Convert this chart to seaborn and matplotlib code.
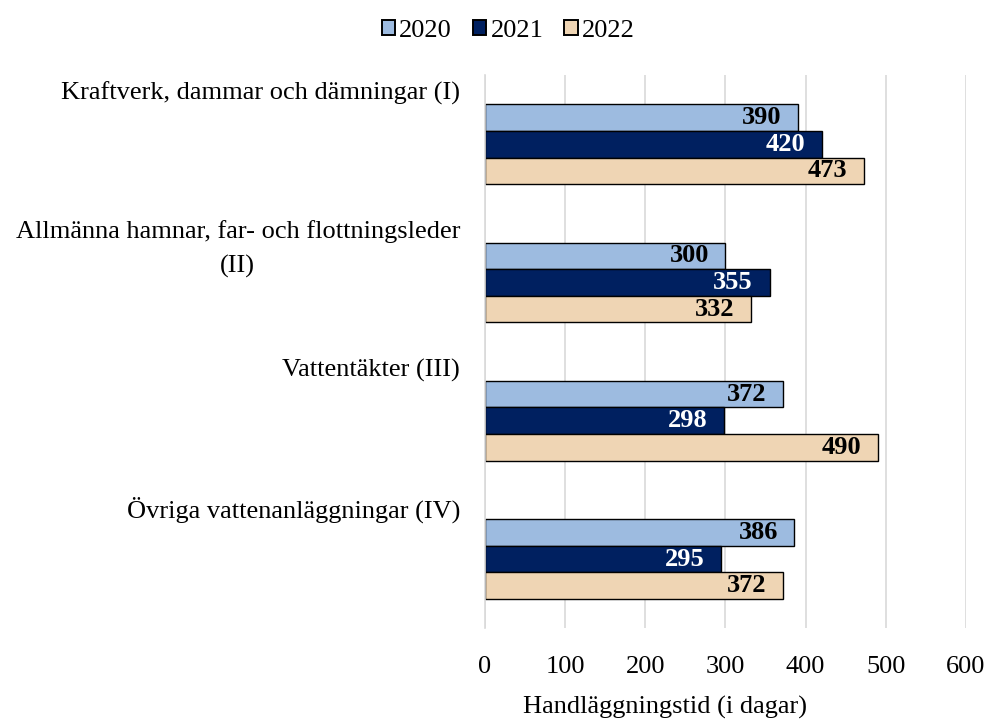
import pandas as pd
import matplotlib.pyplot as plt
import seaborn as sns
from matplotlib.patches import Patch
import matplotlib.transforms as mtransforms

# data
categories = ["Kraftverk, dammar och dämningar (I)",
              "Allmänna hamnar, far- och flottningsleder\n(II)",
              "Vattentäkter (III)",
              "Övriga vattenanläggningar (IV)"]
years = ["2020", "2021", "2022"]
v2020 = [390, 300, 372, 386]
v2021 = [420, 355, 298, 295]
v2022 = [473, 332, 490, 372]
colors = ["#9dbbe0", "#002060", "#efd5b4"]
label_colors = ["black", "white", "black"]

df = pd.DataFrame({
    "kategori": categories * 3,
    "år": [y for y in years for _ in categories],
    "dagar": v2020 + v2021 + v2022,
})

sns.set_style("white")
plt.rcParams['font.family'] = ['Liberation Serif', 'DejaVu Serif']
plt.rcParams['text.color'] = 'black'
plt.rcParams['xtick.color'] = 'black'
plt.rcParams['axes.labelcolor'] = 'black'

fs = 19
fig = plt.figure(figsize=(9.87, 7.22), dpi=100)
ax = fig.add_axes([0.4914, 0.130, 0.4873, 0.766])

sns.barplot(data=df, y="kategori", x="dagar", hue="år", orient="h",
            palette=colors, saturation=1, width=0.577, edgecolor="black",
            linewidth=1.0, ax=ax, legend=False)

ax.set_xlim(0, 600)
ax.set_ylim(3.5, -0.5)
ax.set_xticks(range(0, 700, 100))
ax.tick_params(axis="x", labelsize=fs, length=0, pad=20)
ax.set_yticks([])
ax.set_ylabel("")
ax.set_xlabel("")
ax.grid(axis="x", color="#d9d9d9", linewidth=1.2)
ax.set_axisbelow(True)
for s in ["top", "right", "bottom"]:
    ax.spines[s].set_visible(False)
ax.spines["left"].set_color("#d9d9d9")
ax.spines["left"].set_linewidth(1.2)

# axis title
fig.text(665 / 987, 1 - 707 / 722, "Handläggningstid (i dagar)", ha="center",
         va="center", fontsize=fs)

# value labels, right-aligned just inside the bar end
for cont, lc in zip(ax.containers, label_colors):
    texts = ax.bar_label(cont, labels=[f"{int(v)}" for v in cont.datavalues],
                         padding=-12, color=lc, fontsize=fs, fontweight="bold")
    for t in texts:
        t.set_ha("right")

# category labels above each group
trans = mtransforms.blended_transform_factory(ax.transAxes, ax.transData)
for i, cat in enumerate(categories):
    ax.text(-0.052, i - 0.45, cat, transform=trans, ha="right", va="top",
            fontsize=fs, linespacing=1.65, multialignment="center")

handles = [Patch(facecolor=c, edgecolor="black", linewidth=1.4) for c in colors]
fig.legend(handles, years, loc="upper center", bbox_to_anchor=(0.515, 1.005),
           ncol=3, frameon=False, fontsize=fs, handlelength=0.5,
           handleheight=0.5, handletextpad=0.15, columnspacing=0.8)

fig.savefig("out.png", dpi=100)
